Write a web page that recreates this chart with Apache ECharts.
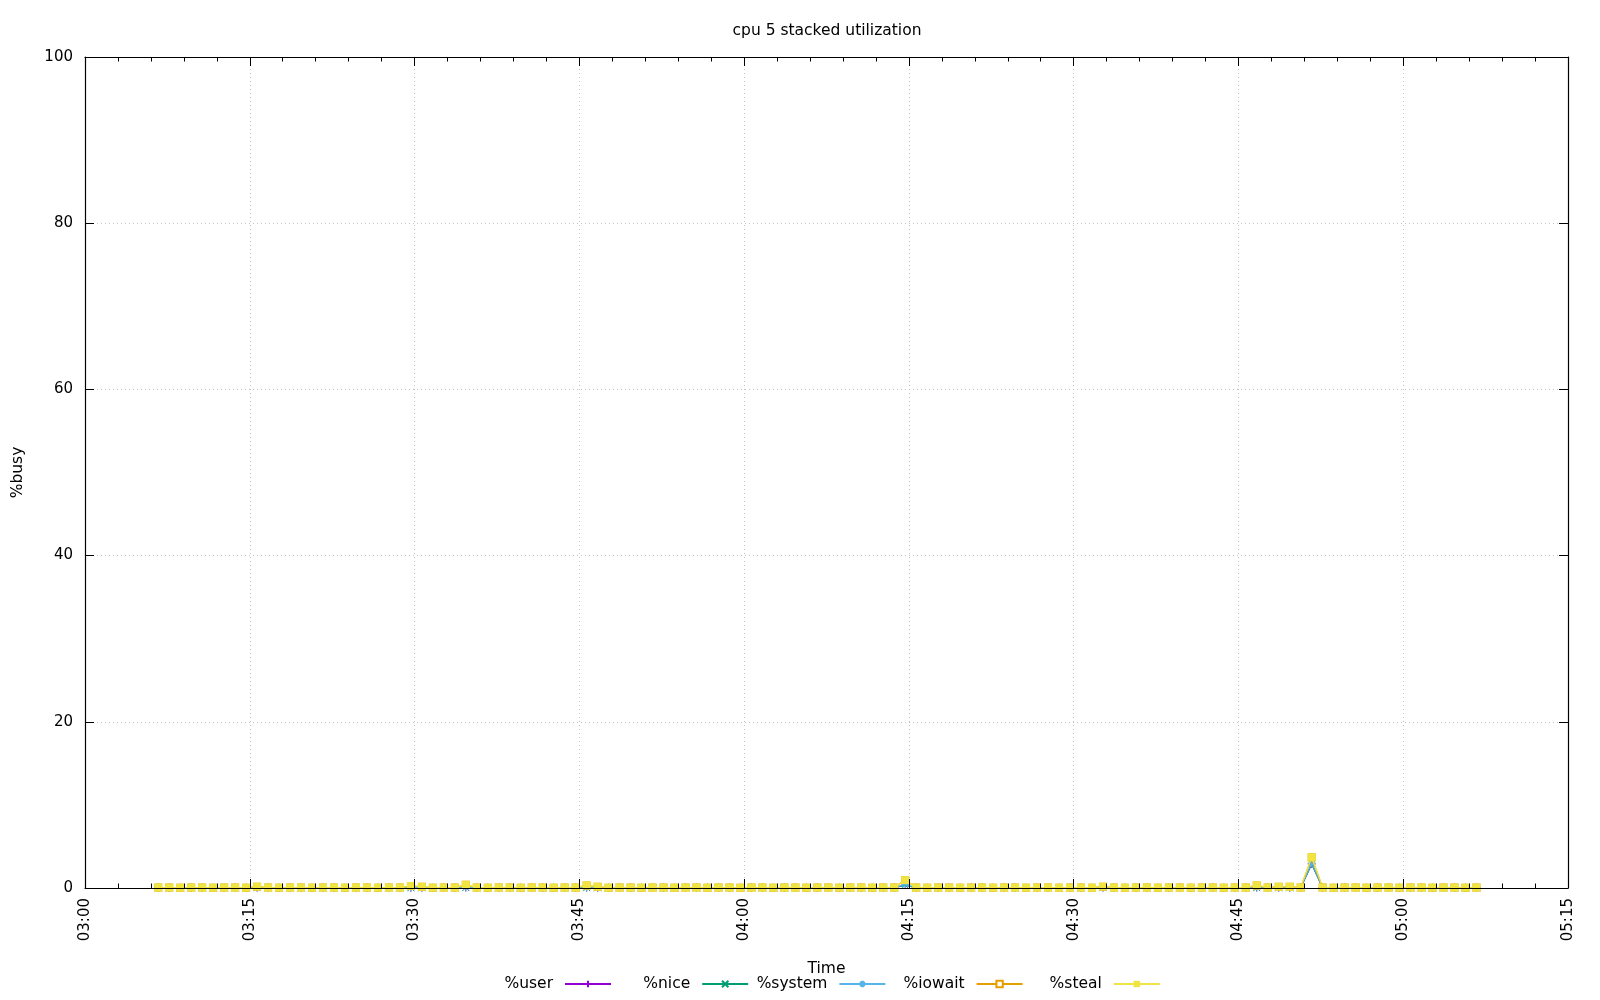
<!DOCTYPE html>
<html>
<head>
<meta charset="utf-8">
<script src="https://cdn.jsdelivr.net/npm/echarts@6/dist/echarts.min.js"></script>
<style>
html,body{margin:0;padding:0;background:#fff;}
#chart{width:1600px;height:1000px;}
</style>
</head>
<body>
<div id="chart"></div>
<script>
// sample times (HH:MM:SS)
const times = [
"03:06:40","03:07:40","03:08:40","03:09:40","03:10:40","03:11:40","03:12:40","03:13:40","03:14:40","03:15:40",
"03:16:40","03:17:40","03:18:40","03:19:40","03:20:40","03:21:40","03:22:40","03:23:40","03:24:40","03:25:40",
"03:26:40","03:27:40","03:28:40","03:29:40","03:30:40","03:31:40","03:32:40","03:33:40","03:34:40","03:35:40",
"03:36:40","03:37:40","03:38:40","03:39:40","03:40:40","03:41:40","03:42:40","03:43:40","03:44:40","03:45:40",
"03:46:40","03:47:40","03:48:40","03:49:40","03:50:40","03:51:40","03:52:40","03:53:40","03:54:40","03:55:40",
"03:56:40","03:57:40","03:58:40","03:59:40","04:00:40","04:01:40","04:02:40","04:03:40","04:04:40","04:05:40",
"04:06:40","04:07:40","04:08:40","04:09:40","04:10:40","04:11:40","04:12:40","04:13:40","04:14:40","04:15:40",
"04:16:40","04:17:40","04:18:40","04:19:40","04:20:40","04:21:40","04:22:40","04:23:40","04:24:40","04:25:40",
"04:26:40","04:27:40","04:28:40","04:29:40","04:30:40","04:31:40","04:32:40","04:33:40","04:34:40","04:35:40",
"04:36:40","04:37:40","04:38:40","04:39:40","04:40:40","04:41:40","04:42:40","04:43:40","04:44:40","04:45:40",
"04:46:40","04:47:40","04:48:40","04:49:40","04:50:40","04:51:40","04:52:40","04:53:40","04:54:40","04:55:40",
"04:56:40","04:57:40","04:58:40","04:59:40","05:00:40","05:01:40","05:02:40","05:03:40","05:04:40","05:05:40",
"05:06:40"
];
const user = [
0.03,0.03,0.02,0.03,0.03,0.02,0.03,0.03,0.02,0.04,
0.03,0.02,0.03,0.03,0.02,0.03,0.03,0.02,0.03,0.03,
0.02,0.03,0.03,0.03,0.03,0.02,0.03,0.03,0.05,0.03,
0.02,0.03,0.03,0.02,0.03,0.03,0.02,0.03,0.03,0.04,
0.03,0.02,0.03,0.03,0.02,0.03,0.03,0.02,0.03,0.03,
0.02,0.03,0.03,0.02,0.03,0.03,0.02,0.03,0.03,0.02,
0.03,0.03,0.02,0.03,0.03,0.02,0.03,0.03,0.35,0.03,
0.02,0.03,0.03,0.02,0.03,0.03,0.02,0.03,0.03,0.02,
0.03,0.03,0.02,0.03,0.03,0.02,0.04,0.03,0.02,0.03,
0.03,0.02,0.03,0.03,0.02,0.03,0.03,0.02,0.03,0.03,
0.04,0.03,0.03,0.03,0.03,2.90,0.03,0.02,0.03,0.03,
0.02,0.03,0.03,0.02,0.03,0.03,0.02,0.03,0.03,0.02,
0.03
];
const nice = [
0,0,0,0,0,0,0,0,0,0, 0,0,0,0,0,0,0,0,0,0,
0,0,0,0,0,0,0,0,0,0, 0,0,0,0,0,0,0,0,0,0,
0,0,0,0,0,0,0,0,0,0, 0,0,0,0,0,0,0,0,0,0,
0,0,0,0,0,0,0,0,0,0, 0,0,0,0,0,0,0,0,0,0,
0,0,0,0,0,0,0,0,0,0, 0,0,0,0,0,0,0,0,0,0,
0,0,0,0,0,0,0,0,0,0, 0,0,0,0,0,0,0,0,0,0,
0
];
const system = [
0.02,0.02,0.02,0.02,0.02,0.02,0.02,0.02,0.02,0.02,
0.02,0.02,0.02,0.02,0.02,0.02,0.02,0.02,0.02,0.02,
0.02,0.02,0.02,0.02,0.02,0.02,0.02,0.02,0.04,0.02,
0.02,0.02,0.02,0.02,0.02,0.02,0.02,0.02,0.02,0.02,
0.02,0.02,0.02,0.02,0.02,0.02,0.02,0.02,0.02,0.02,
0.02,0.02,0.02,0.02,0.02,0.02,0.02,0.02,0.02,0.02,
0.02,0.02,0.02,0.02,0.02,0.02,0.02,0.02,0.10,0.02,
0.02,0.02,0.02,0.02,0.02,0.02,0.02,0.02,0.02,0.02,
0.02,0.02,0.02,0.02,0.02,0.02,0.02,0.02,0.02,0.02,
0.02,0.02,0.02,0.02,0.02,0.02,0.02,0.02,0.02,0.02,
0.02,0.02,0.02,0.02,0.02,0.10,0.02,0.02,0.02,0.02,
0.02,0.02,0.02,0.02,0.02,0.02,0.02,0.02,0.02,0.02,
0.02
];
const iowait = [
0,0,0,0,0,0,0,0,0,0.10, 0,0,0,0,0,0,0,0,0,0,
0,0,0,0.20,0.10,0,0,0,0.30,0, 0,0,0,0,0,0,0,0,0,0.25,
0.10,0,0,0,0,0,0,0,0,0, 0,0,0,0,0,0,0,0,0,0,
0,0,0,0,0,0,0,0,0.50,0, 0,0,0,0,0,0,0,0,0,0,
0,0,0,0,0,0,0.10,0,0,0, 0,0,0,0,0,0,0,0,0,0,
0.25,0,0.10,0.10,0,0.70,0,0,0,0, 0,0,0,0,0,0,0,0,0,0,
0
];
const steal = [
0,0,0,0,0,0,0,0,0,0, 0,0,0,0,0,0,0,0,0,0,
0,0,0,0,0,0,0,0,0,0, 0,0,0,0,0,0,0,0,0,0,
0,0,0,0,0,0,0,0,0,0, 0,0,0,0,0,0,0,0,0,0,
0,0,0,0,0,0,0,0,0,0, 0,0,0,0,0,0,0,0,0,0,
0,0,0,0,0,0,0,0,0,0, 0,0,0,0,0,0,0,0,0,0,
0,0,0,0,0,0,0,0,0,0, 0,0,0,0,0,0,0,0,0,0,
0
];
const seriesNames = ["%user","%nice","%system","%iowait","%steal"];
const xTickMinutes = {min: 180, max: 315, step: 15}; // 03:00 .. 05:15
const yTicks = {min: 0, max: 100, step: 20};

const colors = ["#9400d3","#009e73","#56b4e9","#e69f00","#f0e442"];
const symbols = [
  "path://M0,5L10,5M5,0L5,10",
  "path://M0,0L10,10M10,0L0,10",
  "path://M0,5L10,5M5,0L5,10M1.5,1.5L8.5,8.5M8.5,1.5L1.5,8.5",
  "emptyRect",
  "rect"
];
const symSizes = [8, 7, 8, 6, 8];

function toMin(s){ const p = s.split(":").map(Number); return p[0]*60 + p[1] + p[2]/60; }
function pad(n){ return (n < 10 ? "0" : "") + n; }
function fmt(v){ const m = Math.round(v); return pad(Math.floor(m/60)) + ":" + pad(m % 60); }

const values = [user, nice, system, iowait, steal];
// stacked (cumulative) table built from the per-series arrays
const cumulative = values.map((arr, k) => arr.map((_, i) => {
  let s = 0; for (let j = 0; j <= k; j++) s += values[j][i]; return +s.toFixed(4);
}));
const FONT = "DejaVu Sans";

const series = seriesNames.map((name, k) => ({
  name: name,
  type: "line",
  data: times.map((t, i) => [toMin(t), cumulative[k][i]]),
  symbol: symbols[k],
  symbolSize: symSizes[k],
  showSymbol: true,
  showAllSymbol: true,
  clip: false,
  z: 2 + k,
  color: colors[k],
  lineStyle: {color: colors[k], width: 1.2},
  itemStyle: k === 4
    ? {color: colors[k], borderWidth: 0}
    : {color: colors[k], borderColor: colors[k], borderWidth: 1},
  emphasis: {disabled: true},
  animation: false
}));

const option = {
  animation: false,
  backgroundColor: "#fff",
  title: {
    text: "cpu 5 stacked utilization",
    left: 822, top: 18, textAlign: "center",
    textStyle: {fontFamily: FONT, fontSize: 15.5, fontWeight: "normal", color: "#000"}
  },
  legend: {
    data: seriesNames,
    left: 476,
    top: 970,
    orient: "horizontal",
    align: "right",
    itemWidth: 46,
    itemHeight: 8,
    itemGap: 6.2,
    selectedMode: false,
    textStyle: {fontFamily: FONT, fontSize: 15.5, color: "#000", width: 72, align: "right",
      padding: [0, 7, 0, 0], lineHeight: 18}
  },
  grid: {left: 85, right: 32, top: 57, bottom: 112, containLabel: false, outerBoundsMode: "none"},
  xAxis: [
    {
      type: "value", min: xTickMinutes.min, max: xTickMinutes.max, interval: xTickMinutes.step,
      position: "bottom", z: 10,
      name: "Time", nameLocation: "middle", nameGap: 73,
      nameTextStyle: {fontFamily: FONT, fontSize: 15.5, color: "#000"},
      axisLine: {show: true, onZero: false, lineStyle: {color: "#000", width: 1.2}},
      axisTick: {show: true, inside: true, length: 9, lineStyle: {color: "#000", width: 1}},
      minorTick: {show: true, splitNumber: 5, length: 4.5, lineStyle: {color: "#000", width: 1}},
      axisLabel: {show: true, rotate: 90, margin: 10, formatter: fmt, showMinLabel: true, showMaxLabel: true, hideOverlap: false,
        fontFamily: FONT, fontSize: 15, color: "#000"},
      splitLine: {show: true, lineStyle: {color: "#c4c4c4", width: 1, type: [1, 3]}}
    },
    {
      type: "value", min: xTickMinutes.min, max: xTickMinutes.max, interval: xTickMinutes.step,
      position: "top", z: 10,
      axisLine: {show: true, onZero: false, lineStyle: {color: "#000", width: 1.2}},
      axisTick: {show: true, inside: true, length: 9, lineStyle: {color: "#000", width: 1}},
      minorTick: {show: true, splitNumber: 5, length: 4.5, lineStyle: {color: "#000", width: 1}},
      axisLabel: {show: false},
      splitLine: {show: false}
    }
  ],
  yAxis: [
    {
      type: "value", min: yTicks.min, max: yTicks.max, interval: yTicks.step,
      position: "left", z: 10,
      name: "%busy", nameLocation: "middle", nameGap: 59,
      nameTextStyle: {fontFamily: FONT, fontSize: 15.5, color: "#000"},
      axisLine: {show: true, onZero: false, lineStyle: {color: "#000", width: 1.2}},
      axisTick: {show: true, inside: true, length: 9, lineStyle: {color: "#000", width: 1}},
      axisLabel: {show: true, margin: 12, fontFamily: FONT, fontSize: 15, color: "#000", showMinLabel: true, showMaxLabel: true},
      splitLine: {show: true, lineStyle: {color: "#c4c4c4", width: 1, type: [1, 3]}}
    },
    {
      type: "value", min: yTicks.min, max: yTicks.max, interval: yTicks.step,
      position: "right", z: 10,
      axisLine: {show: true, onZero: false, lineStyle: {color: "#000", width: 1.2}},
      axisTick: {show: true, inside: true, length: 9, lineStyle: {color: "#000", width: 1}},
      axisLabel: {show: false},
      splitLine: {show: false}
    }
  ],
  series: series
};

const chart = echarts.init(document.getElementById("chart"), null, {renderer: "canvas"});
chart.setOption(option);
</script>
</body>
</html>
